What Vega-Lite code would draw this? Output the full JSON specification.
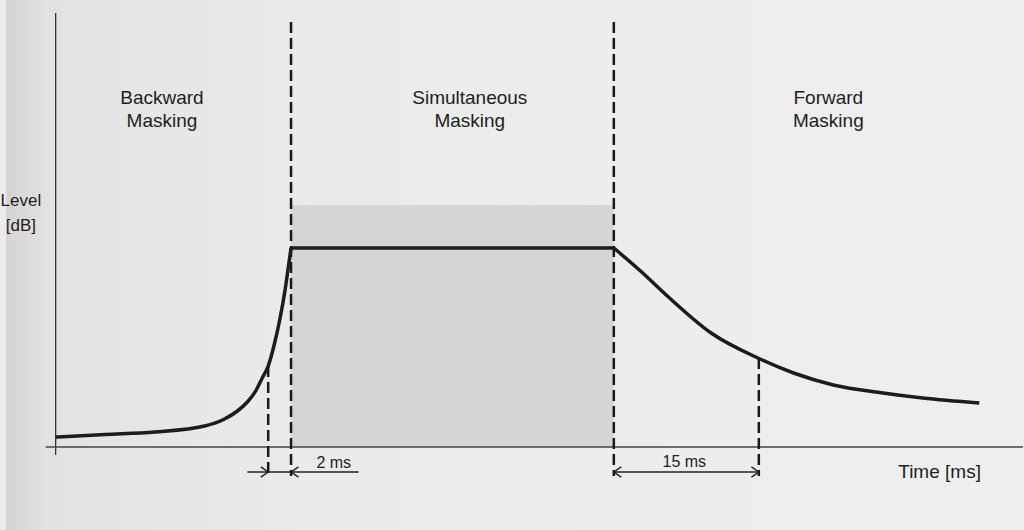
{
  "$schema": "https://vega.github.io/schema/vega-lite/v6.json",
  "width": 1024,
  "height": 530,
  "padding": 0,
  "autosize": {"type": "fit", "contains": "padding"},
  "background": "#ececec",
  "config": {"view": {"stroke": null}},
  "datasets": {
    "bg": [{"t0": 0, "t1": 102.4, "l0": -8.3, "l1": 44.7}],
    "curve": [
      {"seg": "rise", "t": 5.0, "level": 1.0},
      {"seg": "rise", "t": 10.0, "level": 1.25},
      {"seg": "rise", "t": 15.0, "level": 1.5},
      {"seg": "rise", "t": 20.0, "level": 2.1},
      {"seg": "rise", "t": 22.0, "level": 2.8},
      {"seg": "rise", "t": 23.3, "level": 3.6},
      {"seg": "rise", "t": 24.3, "level": 4.5},
      {"seg": "rise", "t": 25.2, "level": 5.7},
      {"seg": "rise", "t": 25.8, "level": 6.9},
      {"seg": "rise", "t": 26.4, "level": 8.1},
      {"seg": "rise", "t": 27.0, "level": 10.2},
      {"seg": "rise", "t": 27.6, "level": 12.9},
      {"seg": "rise", "t": 28.1, "level": 15.7},
      {"seg": "rise", "t": 28.5, "level": 18.5},
      {"seg": "rise", "t": 28.7, "level": 19.9},
      {"seg": "flat", "t": 28.7, "level": 19.9},
      {"seg": "flat", "t": 61.2, "level": 19.9},
      {"seg": "decay", "t": 61.2, "level": 19.9},
      {"seg": "decay", "t": 64.0, "level": 17.5},
      {"seg": "decay", "t": 66.7, "level": 15.0},
      {"seg": "decay", "t": 71.0, "level": 11.4},
      {"seg": "decay", "t": 75.7, "level": 8.9},
      {"seg": "decay", "t": 79.3, "level": 7.4},
      {"seg": "decay", "t": 83.3, "level": 6.2},
      {"seg": "decay", "t": 88.3, "level": 5.4},
      {"seg": "decay", "t": 92.3, "level": 4.9},
      {"seg": "decay", "t": 98.0, "level": 4.4}
    ],
    "masker": [{"t0": 28.7, "t1": 61.2, "l0": 0, "l1": 24.2}],
    "bounds": [
      {"t": 26.4, "top": 8.1, "bottom": -2.9},
      {"t": 28.7, "top": 42.5, "bottom": -2.9},
      {"t": 61.2, "top": 42.5, "bottom": -2.9},
      {"t": 75.8, "top": 8.9, "bottom": -2.9}
    ],
    "yaxis": [{"t": 5.0, "top": 43.4, "bottom": -0.8}],
    "xaxis": [{"t0": 4.0, "t1": 102.4, "level": 0}],
    "spans": [
      {"t0": 24.3, "t1": 35.5, "level": -2.5},
      {"t0": 61.2, "t1": 75.8, "level": -2.5}
    ],
    "heads": [
      {"t": 26.4, "level": -2.5, "dir": "right"},
      {"t": 28.7, "level": -2.5, "dir": "left"},
      {"t": 61.2, "level": -2.5, "dir": "left"},
      {"t": 75.8, "level": -2.5, "dir": "right"}
    ],
    "titles": [
      {"label": "Backward\nMasking", "t": 15.7, "level": 34.9},
      {"label": "Simultaneous\nMasking", "t": 46.7, "level": 34.9},
      {"label": "Forward\nMasking", "t": 82.8, "level": 34.9}
    ],
    "small": [
      {"label": "2 ms", "t": 33.0, "level": -1.6},
      {"label": "15 ms", "t": 68.3, "level": -1.5}
    ],
    "axislabels": [
      {"label": "Time [ms]", "t": 94.0, "level": -2.5}
    ],
    "ylabel": [
      {"label": "Level\n[dB]", "t": 1.5, "level": 24.6}
    ]
  },
  "layer": [
    {
      "data": {"name": "bg"},
      "mark": {"type": "rect", "color": {"gradient": "linear", "x1": 0, "x2": 1, "y1": 0, "y2": 0, "stops": [{"offset": 0, "color": "#d4d4d4"}, {"offset": 0.04, "color": "#e2e2e2"}, {"offset": 0.3, "color": "#ebebeb"}, {"offset": 1, "color": "#efefef"}]}},
      "encoding": {
        "x": {"field": "t0", "type": "quantitative", "scale": {"domain": [0, 102.4], "nice": false, "zero": false}, "axis": null},
        "x2": {"field": "t1"},
        "y": {"field": "l0", "type": "quantitative", "scale": {"domain": [-8.3, 44.7], "nice": false, "zero": false}, "axis": null},
        "y2": {"field": "l1"}
      }
    },
    {
      "data": {"name": "masker"},
      "mark": {"type": "rect", "color": "#d6d6d6"},
      "encoding": {
        "x": {"field": "t0", "type": "quantitative"},
        "x2": {"field": "t1"},
        "y": {"field": "l0", "type": "quantitative"},
        "y2": {"field": "l1"}
      }
    },
    {
      "data": {"name": "yaxis"},
      "mark": {"type": "rule", "color": "#333", "strokeWidth": 1.3},
      "encoding": {
        "x": {"field": "t", "type": "quantitative"},
        "y": {"field": "top", "type": "quantitative"},
        "y2": {"field": "bottom"}
      }
    },
    {
      "data": {"name": "xaxis"},
      "mark": {"type": "rule", "color": "#444", "strokeWidth": 1.3},
      "encoding": {
        "x": {"field": "t0", "type": "quantitative"},
        "x2": {"field": "t1"},
        "y": {"field": "level", "type": "quantitative"}
      }
    },
    {
      "data": {"name": "bounds"},
      "mark": {"type": "rule", "color": "#1a1a1a", "strokeWidth": 2.5, "strokeDash": [11, 5]},
      "encoding": {
        "x": {"field": "t", "type": "quantitative"},
        "y": {"field": "top", "type": "quantitative"},
        "y2": {"field": "bottom"}
      }
    },
    {
      "data": {"name": "curve"},
      "mark": {"type": "line", "color": "#1c1c1c", "strokeWidth": 3.5, "interpolate": "monotone"},
      "encoding": {
        "x": {"field": "t", "type": "quantitative"},
        "y": {"field": "level", "type": "quantitative"},
        "detail": {"field": "seg"}
      }
    },
    {
      "data": {"name": "spans"},
      "mark": {"type": "rule", "color": "#222", "strokeWidth": 1.3},
      "encoding": {
        "x": {"field": "t0", "type": "quantitative"},
        "x2": {"field": "t1"},
        "y": {"field": "level", "type": "quantitative"}
      }
    },
    {
      "data": {"name": "heads"},
      "transform": [{"filter": "datum.dir === 'right'"}],
      "mark": {"type": "point", "shape": "M-1,-0.7L0,0L-1,0.7", "filled": false, "size": 220, "stroke": "#222", "strokeWidth": 1.5, "angle": 0, "opacity": 1},
      "encoding": {
        "x": {"field": "t", "type": "quantitative"},
        "y": {"field": "level", "type": "quantitative"}
      }
    },
    {
      "data": {"name": "heads"},
      "transform": [{"filter": "datum.dir === 'left'"}],
      "mark": {"type": "point", "shape": "M-1,-0.7L0,0L-1,0.7", "filled": false, "size": 220, "stroke": "#222", "strokeWidth": 1.5, "angle": 180, "opacity": 1},
      "encoding": {
        "x": {"field": "t", "type": "quantitative"},
        "y": {"field": "level", "type": "quantitative"}
      }
    },
    {
      "data": {"name": "titles"},
      "mark": {"type": "text", "font": "Liberation Sans", "fontSize": 19, "color": "#1e1e1e", "lineBreak": "\n", "lineHeight": 23, "align": "center", "baseline": "middle"},
      "encoding": {
        "x": {"field": "t", "type": "quantitative"},
        "y": {"field": "level", "type": "quantitative"},
        "text": {"field": "label"}
      }
    },
    {
      "data": {"name": "small"},
      "mark": {"type": "text", "font": "Liberation Sans", "fontSize": 16, "color": "#1e1e1e", "align": "center", "baseline": "middle"},
      "encoding": {
        "x": {"field": "t", "type": "quantitative"},
        "y": {"field": "level", "type": "quantitative"},
        "text": {"field": "label"}
      }
    },
    {
      "data": {"name": "axislabels"},
      "mark": {"type": "text", "font": "Liberation Sans", "fontSize": 19, "color": "#1e1e1e", "align": "center", "baseline": "middle"},
      "encoding": {
        "x": {"field": "t", "type": "quantitative"},
        "y": {"field": "level", "type": "quantitative"},
        "text": {"field": "label"}
      }
    },
    {
      "data": {"name": "ylabel"},
      "mark": {"type": "text", "font": "Liberation Sans", "fontSize": 17, "color": "#1e1e1e", "lineBreak": "\n", "lineHeight": 25, "align": "center", "baseline": "middle"},
      "encoding": {
        "x": {"field": "t", "type": "quantitative"},
        "y": {"field": "level", "type": "quantitative"},
        "text": {"field": "label"}
      }
    }
  ]
}
